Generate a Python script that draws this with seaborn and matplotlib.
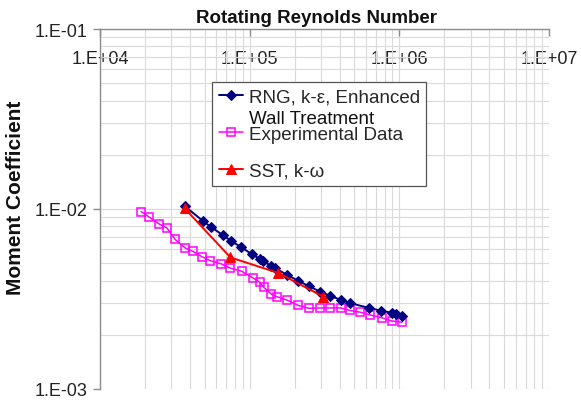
import matplotlib
matplotlib.use("Agg")
import matplotlib.pyplot as plt
from matplotlib.ticker import LogLocator, FuncFormatter, NullFormatter
import numpy as np
import pandas as pd
import seaborn as sns

# Rotating Reynolds number vs. moment coefficient
re_rng = [3.70e4, 4.90e4, 5.49e4, 6.60e4, 7.47e4, 8.79e4, 1.036e5, 1.172e5,
          1.232e5, 1.394e5, 1.483e5, 1.783e5, 2.102e5, 2.478e5, 2.97e5, 3.44e5,
          4.09e5, 4.68e5, 6.29e5, 7.59e5, 8.99e5, 9.49e5, 1.049e6]
cm_rng = [1.035e-2, 8.54e-3, 7.97e-3, 7.17e-3, 6.67e-3, 6.13e-3, 5.60e-3, 5.28e-3,
          5.16e-3, 4.80e-3, 4.68e-3, 4.30e-3, 4.00e-3, 3.73e-3, 3.47e-3, 3.30e-3,
          3.12e-3, 3.00e-3, 2.82e-3, 2.72e-3, 2.65e-3, 2.62e-3, 2.54e-3]

re_exp = [1.879e4, 2.125e4, 2.489e4, 2.790e4, 3.170e4, 3.709e4, 4.18e4, 4.80e4,
          5.46e4, 6.48e4, 7.39e4, 8.84e4, 1.047e5, 1.166e5, 1.240e5, 1.398e5,
          1.529e5, 1.775e5, 2.118e5, 2.478e5, 2.958e5, 3.42e5, 4.06e5, 4.68e5,
          5.50e5, 6.36e5, 7.62e5, 8.88e5, 1.041e6]
cm_exp = [9.68e-3, 9.03e-3, 8.25e-3, 7.87e-3, 6.79e-3, 6.07e-3, 5.81e-3, 5.43e-3,
          5.16e-3, 4.95e-3, 4.70e-3, 4.51e-3, 4.15e-3, 3.92e-3, 3.68e-3, 3.36e-3,
          3.25e-3, 3.12e-3, 2.91e-3, 2.81e-3, 2.82e-3, 2.82e-3, 2.82e-3, 2.73e-3,
          2.67e-3, 2.58e-3, 2.49e-3, 2.39e-3, 2.35e-3]

re_sst = [3.67e4, 7.44e4, 1.557e5, 3.10e5]
cm_sst = [1.01e-2, 5.38e-3, 4.41e-3, 3.26e-3]

label_rng = "RNG, k-ε, Enhanced"
label_rng_2 = "Wall Treatment"
label_exp = "Experimental Data"
label_sst = "SST, k-ω"

sns.set_theme(style="white")
plt.rcParams["font.family"] = ["Liberation Sans", "DejaVu Sans"]

W, H = 581, 402
fig = plt.figure(figsize=(W / 100, H / 100), dpi=100)
ax = fig.add_axes([100 / W, 1 - 390 / H, 449 / W, 360 / H])

ax.set_xscale("log")
ax.set_yscale("log")

sns.lineplot(x=re_exp, y=cm_exp, ax=ax, color="#ff00ff", lw=1.1, marker="s",
             markersize=5.5, markerfacecolor="none", markeredgecolor="#ff00ff",
             markeredgewidth=1.1, estimator=None, sort=False, label=label_exp,
             zorder=3)
sns.lineplot(x=re_rng, y=cm_rng, ax=ax, color="#000080", lw=1.4, marker="D",
             markersize=5, markeredgecolor="#000080", estimator=None,
             sort=False, label=label_rng, zorder=4)
sns.lineplot(x=re_sst, y=cm_sst, ax=ax, color="#ff0000", lw=1.4, marker="^",
             markersize=7.5, markeredgecolor="#ff0000", estimator=None,
             sort=False, label=label_sst, zorder=5)

ax.set_xlim(1e4, 1e7)
ax.set_ylim(1e-3, 1e-1)

ax.xaxis.set_major_locator(LogLocator(base=10, numticks=10))
ax.yaxis.set_major_locator(LogLocator(base=10, numticks=10))
ax.xaxis.set_minor_locator(LogLocator(base=10, subs=np.arange(2, 10), numticks=20))
ax.yaxis.set_minor_locator(LogLocator(base=10, subs=np.arange(2, 10), numticks=20))
ax.xaxis.set_minor_formatter(NullFormatter())
ax.yaxis.set_minor_formatter(NullFormatter())

fmt = FuncFormatter(lambda v, p: f"1.E{int(round(np.log10(v))):+03d}")
ax.xaxis.set_major_formatter(fmt)
ax.yaxis.set_major_formatter(fmt)

ax.grid(True, which="both", color="#dadada", lw=0.8)
ax.set_axisbelow(True)

for side in ("right", "bottom"):
    ax.spines[side].set_visible(False)
for side in ("left", "top"):
    ax.spines[side].set_color("#8c8c8c")
    ax.spines[side].set_linewidth(1.0)

ax.xaxis.tick_top()
ax.tick_params(axis="x", which="major", direction="in", length=5, width=1,
               color="#8c8c8c", labelsize=13, labelcolor="#222222", pad=-27)
ax.tick_params(axis="y", which="major", direction="out", length=5, width=1,
               color="#8c8c8c", labelsize=13, labelcolor="#222222", pad=4,
               left=True)
ax.tick_params(which="minor", length=0)

ax.set_title("Rotating Reynolds Number", fontsize=13.5, fontweight="bold",
             x=(317 - 100) / 449, pad=5, color="#111111")
ax.set_ylabel("Moment Coefficient", fontsize=15, fontweight="bold",
              color="#111111")
ax.yaxis.set_label_coords(-75 / 449, (390 - 198) / 360)

handles, labels = ax.get_legend_handles_labels()
order = [labels.index(label_rng), labels.index(label_exp), labels.index(label_sst)]
leg = ax.legend([handles[i] for i in order], [labels[i] for i in order],
                loc="upper left", bbox_to_anchor=((212 - 100) / 449, (390 - 83) / 360),
                borderaxespad=0, fontsize=13.5, frameon=True, fancybox=False,
                edgecolor="#555555", framealpha=1, labelspacing=1.05,
                handlelength=1.3, handletextpad=0.3, borderpad=0.35)
leg.get_frame().set_linewidth(0.9)

# second line of the first legend entry, placed under its first line
fig.canvas.draw()
bb = leg.get_texts()[0].get_window_extent()
fig.text(bb.x0 / W, (bb.y0 - 21) / H, label_rng_2, fontsize=13.5,
         ha="left", va="bottom", color="#111111", zorder=10)

fig.savefig("out.png", dpi=100)
